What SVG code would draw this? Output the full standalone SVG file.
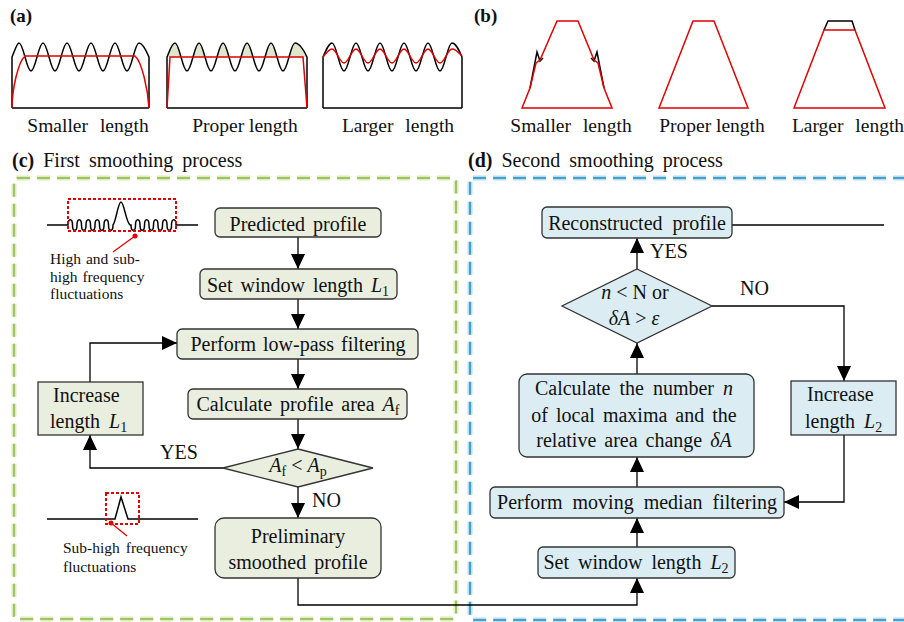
<svg xmlns="http://www.w3.org/2000/svg" width="904" height="622" viewBox="0 0 904 622">
<style>
text{font-family:"Liberation Serif","Times New Roman",serif;fill:#111}
.lbl{font-size:19.5px;text-anchor:middle}
.nt{font-size:20px;text-anchor:middle}
.ttl{font-size:20px}
.sm{font-size:15.5px}
.node{stroke:#333;stroke-width:1.3}
.c{fill:#e9eedf}
.d{fill:#dbedf3}
.blk{fill:none;stroke:#000;stroke-width:1.5}
.red{fill:none;stroke:#e00000;stroke-width:1.5}
.conn{fill:none;stroke:#000;stroke-width:1.3}
.i{font-style:italic}
</style>
<defs>
<marker id="ah" viewBox="0 0 15 14" refX="15" refY="7" markerWidth="15" markerHeight="14" markerUnits="userSpaceOnUse" orient="auto">
<path d="M0,0 L15,7 L0,14 Z" fill="#000"/>
</marker>
<clipPath id="cp2"><rect x="160" y="30" width="160" height="27"/></clipPath>
</defs>

<g id="panel-a">
<text x="10" y="22" style="font-size:19px;font-weight:bold">(a)</text>
<path class="blk" d="M12,108 L12,57 C15,50 17,43 19,43 C23.4,43 26.6,71 31,71 S38.6,43 43,43 S50.6,71 55,71 S62.6,43 67,43 S74.6,71 79,71 S86.6,43 91,43 S98.6,71 103,71 S110.6,43 115,43 S122.6,71 127,71 S134.6,43 139,43 C142,43 146,50 149,57 L149,108 M12,108 L149,108"/>
<path class="red" d="M12,108 C12,90 18,62 25,56 L135,56 C142,62 148,90 149,108"/>
<path fill="#dfe6cc" clip-path="url(#cp2)" d="M167,57 C170,50 172,43 175,43 C179.4,43 182.6,71 187,71 S194.6,43 199,43 S206.6,71 211,71 S218.6,43 223,43 S230.6,71 235,71 S242.6,43 247,43 S254.6,71 259,71 S266.6,43 271,43 S278.6,71 283,71 S290.6,43 295,43 C299,43 304,50 307,57 Z"/>
<path class="blk" d="M167,108 L167,57 C170,50 172,43 175,43 C179.4,43 182.6,71 187,71 S194.6,43 199,43 S206.6,71 211,71 S218.6,43 223,43 S230.6,71 235,71 S242.6,43 247,43 S254.6,71 259,71 S266.6,43 271,43 S278.6,71 283,71 S290.6,43 295,43 C299,43 304,50 307,57 L307,108 M167,108 L307,108"/>
<path class="red" d="M167,108 L170,57 L303,57 L307,108"/>
<path class="blk" d="M323,108 L323,57 C326,50 329,43 332,43 C336.4,43 339.6,71 344,71 S351.6,43 356,43 S363.6,71 368,71 S375.6,43 380,43 S387.6,71 392,71 S399.6,43 404,43 S411.6,71 416,71 S423.6,43 428,43 S435.6,71 440,71 S447.6,43 452,43 C456,43 459,50 462,57 L462,108 M323,108 L462,108"/>
<path class="red" d="M323,57 C326,53 329,49 332,49 C336.4,49 339.6,63 344,63 S351.6,49 356,49 S363.6,63 368,63 S375.6,49 380,49 S387.6,63 392,63 S399.6,49 404,49 S411.6,63 416,63 S423.6,49 428,49 S435.6,63 440,63 S447.6,49 452,49 C456,49 459,53 462,56"/>
<text class="lbl" x="88" y="132" word-spacing="7">Smaller length</text>
<text class="lbl" x="245" y="132">Proper length</text>
<text class="lbl" x="398" y="132" word-spacing="7">Larger length</text>
</g>

<g id="panel-b">
<text x="474" y="22" style="font-size:19px;font-weight:bold">(b)</text>
<path class="blk" d="M530,88 L537,52 L540,61 L543,58"/>
<path class="blk" d="M604,88 L597,52 L594,61 L591,58"/>
<path class="red" d="M522,108 L530,88 L536,63 L540,60 L557,21 L578,21 L594,60 L598,63 L604,88 L612,108 Z"/>
<path class="red" d="M659,108 L693,21 L714,21 L748,108 Z"/>
<path class="blk" d="M824,30 L828,21 L852,21 L855,30"/>
<path class="red" d="M794,108 L824,30 L855,30 L885,108 Z"/>
<text class="lbl" x="571" y="132" word-spacing="7">Smaller length</text>
<text class="lbl" x="712" y="132">Proper length</text>
<text class="lbl" x="848" y="132" word-spacing="7">Larger length</text>
</g>

<g id="frame-c">
<text class="ttl" x="12" y="167" word-spacing="4"><tspan font-weight="bold">(c)</tspan> First smoothing process</text>
<rect x="14" y="178" width="442" height="441" rx="3" fill="none" stroke="#dcebc2" stroke-width="5" stroke-dasharray="13 7"/>
<rect x="14" y="178" width="442" height="441" rx="3" fill="none" stroke="#9fc35f" stroke-width="2" stroke-dasharray="13 7"/>
</g>
<g id="frame-d">
<text class="ttl" x="468" y="167" word-spacing="4"><tspan font-weight="bold">(d)</tspan> Second smoothing process</text>
<rect x="470" y="178" width="460" height="442" rx="3" fill="none" stroke="#bcdaf3" stroke-width="5" stroke-dasharray="13 7"/>
<rect x="470" y="178" width="460" height="442" rx="3" fill="none" stroke="#43a3c4" stroke-width="2" stroke-dasharray="13 7"/>
</g>

<g id="icon-high">
<path class="blk" stroke-width="1.3" d="M47,225 L68,225 c0,-7 4.5,-7 4.5,0 c0,7 4.5,7 4.5,0 c0,-7 4.5,-7 4.5,0 c0,7 4.5,7 4.5,0 c0,-7 4.5,-7 4.5,0 c0,7 4.5,7 4.5,0 c0,-7 4.5,-7 4.5,0 c0,7 4.5,7 4.5,0 c0,-7 4.5,-7 4.5,0 c0,7 4.5,7 4.5,0 L113,225 C116,222 118,202 121,202 C124,202 126,222 130,225 L131,225 c0,7 4.5,7 4.5,0 c0,-7 4.5,-7 4.5,0 c0,7 4.5,7 4.5,0 c0,-7 4.5,-7 4.5,0 c0,7 4.5,7 4.5,0 c0,-7 4.5,-7 4.5,0 c0,7 4.5,7 4.5,0 c0,-7 4.5,-7 4.5,0 c0,7 4.5,7 4.5,0 c0,-7 4.5,-7 4.5,0 L198,225"/>
<rect x="68" y="199" width="108" height="32" fill="none" stroke="#e00000" stroke-width="2" stroke-dasharray="3 2"/>
<circle cx="135" cy="236" r="2.5" fill="#e00000"/>
<path d="M135,236 L113,252" stroke="#e00000" stroke-width="1.3"/>
<text class="sm" x="50" y="264" word-spacing="1">High and sub-</text>
<text class="sm" x="50" y="282" word-spacing="1">high frequency</text>
<text class="sm" x="50" y="299">fluctuations</text>
</g>

<g id="icon-subhigh">
<path class="blk" stroke-width="1.3" d="M47,519 L115,519 L121,497 L128,519 L198,519"/>
<rect x="106" y="493" width="33" height="31" fill="none" stroke="#e00000" stroke-width="2" stroke-dasharray="3 2"/>
<circle cx="111" cy="523" r="2.5" fill="#e00000"/>
<path d="M111,523 L127,536" stroke="#e00000" stroke-width="1.3"/>
<text class="sm" x="63" y="553" word-spacing="2">Sub-high frequency</text>
<text class="sm" x="63" y="572">fluctuations</text>
</g>

<g id="connectors">
<path class="conn" marker-end="url(#ah)" d="M298,237 L298,269"/>
<path class="conn" marker-end="url(#ah)" d="M298,299 L298,329"/>
<path class="conn" marker-end="url(#ah)" d="M298,359 L298,389"/>
<path class="conn" marker-end="url(#ah)" d="M298,419 L298,449"/>
<path class="conn" marker-end="url(#ah)" d="M298,487 L298,518"/>
<path class="conn" marker-end="url(#ah)" d="M223,468 L90,468 L90,435"/>
<path class="conn" marker-end="url(#ah)" d="M90,382 L90,343 L177,343"/>
<path class="conn" marker-end="url(#ah)" d="M298,578 L298,605 L637,605 L637,578"/>
<path class="conn" marker-end="url(#ah)" d="M637,547 L637,518"/>
<path class="conn" marker-end="url(#ah)" d="M637,487 L637,457"/>
<path class="conn" marker-end="url(#ah)" d="M637,374 L637,343"/>
<path class="conn" marker-end="url(#ah)" d="M637,269 L637,238"/>
<path class="conn" marker-end="url(#ah)" d="M712,306 L844,306 L844,381"/>
<path class="conn" marker-end="url(#ah)" d="M844,435 L844,502 L784,502"/>
<path class="conn" stroke="#444" d="M732,225 L884,225"/>
<text x="160" y="459" style="font-size:20px">YES</text>
<text x="312" y="507" style="font-size:20px">NO</text>
<text x="650" y="258" style="font-size:20px">YES</text>
<text x="740" y="295" style="font-size:20px">NO</text>
</g>

<g id="predicted">
<rect class="node c" x="215" y="208" width="166" height="29" rx="5"/>
<text class="nt" x="298" y="231" word-spacing="3">Predicted profile</text>
</g>
<g id="set-window-l1">
<rect class="node c" x="200" y="269" width="197" height="30" rx="5"/>
<text class="nt" x="298" y="292" word-spacing="3">Set window length <tspan class="i">L</tspan><tspan font-size="14" dy="4">1</tspan></text>
</g>
<g id="lowpass">
<rect class="node c" x="177" y="329" width="241" height="30" rx="5"/>
<text class="nt" x="298" y="351" word-spacing="2">Perform low-pass filtering</text>
</g>
<g id="calc-area">
<rect class="node c" x="188" y="389" width="219" height="30" rx="5"/>
<text class="nt" x="298" y="411" word-spacing="3">Calculate profile area <tspan class="i">A</tspan><tspan font-size="14" dy="4">f</tspan></text>
</g>
<g id="increase-l1">
<rect class="node c" x="38" y="382" width="105" height="53"/>
<text x="53" y="402" style="font-size:20px">Increase</text>
<text x="50" y="428" style="font-size:20px" word-spacing="4">length <tspan class="i">L</tspan><tspan font-size="14" dy="4">1</tspan></text>
</g>
<g id="decision-c">
<polygon class="node c" points="298,449 373,468 298,487 223,468"/>
<text class="nt" x="298" y="472"><tspan class="i">A</tspan><tspan font-size="14" dy="4">f</tspan><tspan dy="-4"> &lt; </tspan><tspan class="i">A</tspan><tspan font-size="14" dy="4">p</tspan></text>
</g>
<g id="preliminary">
<rect class="node c" x="215" y="518" width="166" height="60" rx="9"/>
<text class="nt" x="298" y="543">Preliminary</text>
<text class="nt" x="298" y="569" word-spacing="3">smoothed profile</text>
</g>

<g id="reconstructed">
<rect class="node d" x="542" y="207" width="190" height="31" rx="5"/>
<text class="nt" x="637" y="230" word-spacing="5">Reconstructed profile</text>
</g>
<g id="decision-d">
<polygon class="node d" points="637,269 712,306 637,343 562,306"/>
<text class="nt" x="635" y="299"><tspan class="i">n</tspan> &lt; N or</text>
<text class="nt" x="634" y="325"><tspan class="i">δA</tspan> &gt; <tspan class="i">ε</tspan></text>
</g>
<g id="calc-maxima">
<rect class="node d" x="519" y="374" width="235" height="83" rx="8"/>
<text class="nt" x="634" y="395" word-spacing="4">Calculate the number <tspan class="i">n</tspan></text>
<text class="nt" x="634" y="422" word-spacing="3">of local maxima and the</text>
<text class="nt" x="634" y="447" word-spacing="3">relative area change <tspan class="i">δA</tspan></text>
</g>
<g id="increase-l2">
<rect class="node d" x="791" y="381" width="105" height="54"/>
<text x="807" y="401" style="font-size:20px">Increase</text>
<text x="805" y="428" style="font-size:20px" word-spacing="4">length <tspan class="i">L</tspan><tspan font-size="14" dy="4">2</tspan></text>
</g>
<g id="median">
<rect class="node d" x="490" y="487" width="294" height="31" rx="5"/>
<text class="nt" x="637" y="509" word-spacing="5">Perform moving median filtering</text>
</g>
<g id="set-window-l2">
<rect class="node d" x="538" y="547" width="197" height="31" rx="5"/>
<text class="nt" x="636" y="569" word-spacing="4">Set window length <tspan class="i">L</tspan><tspan font-size="14" dy="4">2</tspan></text>
</g>
</svg>
